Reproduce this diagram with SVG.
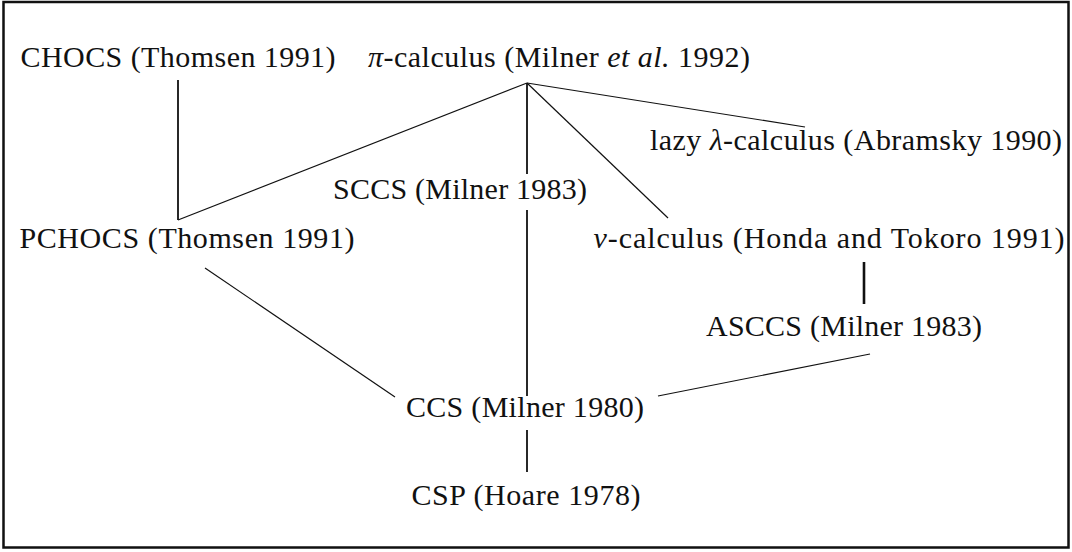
<svg xmlns="http://www.w3.org/2000/svg" width="1072" height="552" viewBox="0 0 1072 552">
  <style>
    .lbl { font-family: "Liberation Serif", "DejaVu Serif", serif; font-size: 30px; fill: #111; text-anchor: middle; }
    .it { font-style: italic; }
    .edge { stroke: #111; fill: none; stroke-width: 1.2; }
    .vert { stroke: #111; fill: none; stroke-width: 1.8; }
    .thick { stroke: #111; fill: none; stroke-width: 2.6; }
  </style>
  <rect x="0" y="0" width="1072" height="552" fill="#fff"/>
  <rect x="3.5" y="2" width="1065" height="545.5" fill="none" stroke="#111" stroke-width="2.5"/>

  <g id="connectors">
    <line class="vert" x1="178" y1="80" x2="178" y2="220"/>
    <line class="edge" x1="527" y1="83" x2="178" y2="220"/>
    <line class="vert" x1="527" y1="83" x2="527" y2="174"/>
    <line class="edge" x1="527" y1="83" x2="805" y2="127"/>
    <line class="edge" x1="527" y1="83" x2="668" y2="218"/>
    <line class="vert" x1="527" y1="210" x2="527" y2="396"/>
    <line class="thick" x1="864" y1="262" x2="864" y2="304"/>
    <line class="edge" x1="870" y1="354" x2="658" y2="396"/>
    <line class="edge" x1="205" y1="268" x2="395" y2="397"/>
    <line class="vert" x1="527" y1="430" x2="527" y2="472"/>
  </g>

  <g id="chocs"><text class="lbl" x="178" y="67" textLength="315" lengthAdjust="spacing">CHOCS (Thomsen 1991)</text></g>
  <g id="pi-calculus"><text class="lbl" x="559" y="67" textLength="382" lengthAdjust="spacing"><tspan class="it">π</tspan>-calculus (Milner <tspan class="it">et al.</tspan> 1992)</text></g>
  <g id="lazy-lambda"><text class="lbl" x="856" y="150" textLength="412" lengthAdjust="spacing">lazy <tspan class="it">λ</tspan>-calculus (Abramsky 1990)</text></g>
  <g id="sccs"><text class="lbl" x="460" y="199" textLength="254" lengthAdjust="spacing">SCCS (Milner 1983)</text></g>
  <g id="pchocs"><text class="lbl" x="187" y="248" textLength="335" lengthAdjust="spacing">PCHOCS (Thomsen 1991)</text></g>
  <g id="nu-calculus"><text class="lbl" x="829" y="248" textLength="471" lengthAdjust="spacing"><tspan class="it">ν</tspan>-calculus (Honda and Tokoro 1991)</text></g>
  <g id="asccs"><text class="lbl" x="844" y="336" textLength="276" lengthAdjust="spacing">ASCCS (Milner 1983)</text></g>
  <g id="ccs"><text class="lbl" x="525" y="417" textLength="238" lengthAdjust="spacing">CCS (Milner 1980)</text></g>
  <g id="csp"><text class="lbl" x="526" y="505" textLength="229" lengthAdjust="spacing">CSP (Hoare 1978)</text></g>
</svg>
